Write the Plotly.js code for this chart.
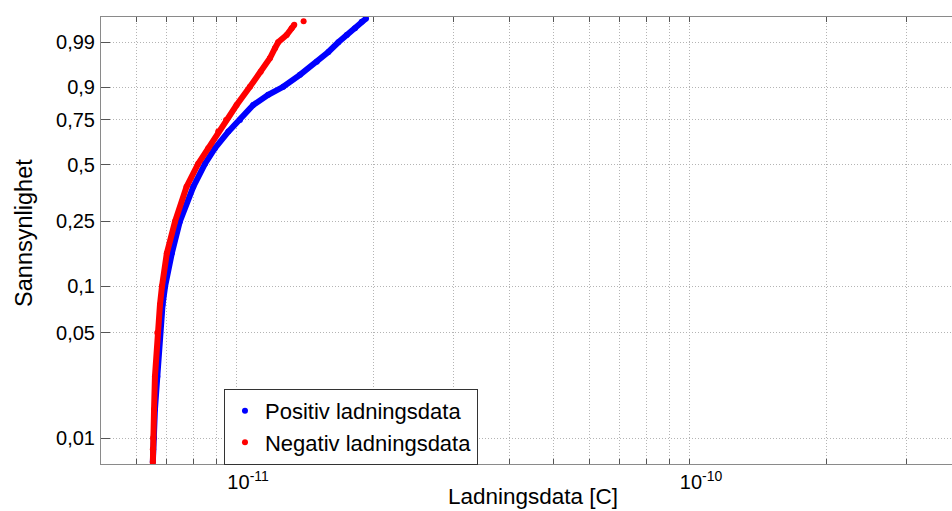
<!DOCTYPE html>
<html>
<head>
<meta charset="utf-8">
<script src="https://cdn.plot.ly/plotly-3.0.1.min.js"></script>
<style>
html, body { margin: 0; padding: 0; background: #ffffff; overflow: hidden; }
#chart { width: 952px; height: 511px; }
</style>
</head>
<body>
<div id="chart"></div>
<script>
// Positiv ladningsdata: charge [C] and cumulative probability
const chargePos = [6.52e-12, 6.53e-12, 6.56e-12, 6.59e-12, 6.67e-12, 6.76e-12, 6.85e-12, 6.94e-12,
  7.18e-12, 7.48e-12, 8.01e-12, 8.50e-12, 8.94e-12, 9.57e-12, 1.015e-11, 1.086e-11, 1.172e-11,
  1.265e-11, 1.377e-11, 1.500e-11, 1.591e-11, 1.674e-11, 1.747e-11, 1.822e-11, 1.885e-11, 1.927e-11];
const probPos = [0.0069, 0.0084, 0.010, 0.0155, 0.0257, 0.050, 0.076, 0.100,
  0.161, 0.25, 0.389, 0.505, 0.591, 0.685, 0.749, 0.825, 0.870,
  0.901, 0.938, 0.967, 0.981, 0.990, 0.9942, 0.9967, 0.9982, 0.9987];

// Negativ ladningsdata
const chargeNeg = [6.52e-12, 6.52e-12, 6.53e-12, 6.56e-12, 6.59e-12, 6.67e-12, 6.76e-12, 6.83e-12,
  7.00e-12, 7.30e-12, 7.74e-12, 8.21e-12, 8.64e-12, 9.09e-12, 9.46e-12, 9.98e-12, 1.068e-11,
  1.128e-11, 1.182e-11, 1.213e-11, 1.233e-11, 1.287e-11, 1.320e-11, 1.338e-11, 1.403e-11];
const probNeg = [0.0068, 0.0084, 0.010, 0.0155, 0.0257, 0.050, 0.076, 0.100,
  0.161, 0.25, 0.389, 0.505, 0.591, 0.685, 0.749, 0.825, 0.901,
  0.946, 0.9725, 0.985, 0.990, 0.9942, 0.9967, 0.9976, 0.9983];

const seriesNames = ['Positiv ladningsdata', 'Negativ ladningsdata'];

const probTicks = [0.01, 0.05, 0.1, 0.25, 0.5, 0.75, 0.9, 0.99];
const probTickText = ['0,01', '0,05', '0,1', '0,25', '0,5', '0,75', '0,9', '0,99'];

const chargeMajorTicks = [1e-11, 1e-10];
const chargeMajorText = ['10<sup>-11</sup>', '10<sup>-10</sup>'];
const chargeMinorTicks = [6e-12, 7e-12, 8e-12, 9e-12, 2e-11, 3e-11, 4e-11, 5e-11, 6e-11, 7e-11, 8e-11, 9e-11, 2e-10, 3e-10];

const xTitle = 'Ladningsdata [C]';
const yTitle = 'Sannsynlighet';

// Weibull probability scale
const wbl = p => Math.log(-Math.log(1 - p));

const FONT = 'Liberation Sans, Arial, Helvetica, sans-serif';
const BLUE = '#0000ff', RED = '#ff0000';
const GRID = '#b4b4b4';
const NB = '\u00a0\u00a0\u00a0\u00a0';

const traces = [
  { x: chargePos, y: probPos.map(wbl), mode: 'lines', line: { color: BLUE, width: 6 },
    showlegend: false, hoverinfo: 'skip' },
  { x: chargePos, y: probPos.map(wbl), mode: 'markers', marker: { color: BLUE, size: 6 },
    name: seriesNames[0] },
  { x: chargeNeg.slice(0, -1), y: probNeg.slice(0, -1).map(wbl), mode: 'lines', line: { color: RED, width: 6 },
    showlegend: false, hoverinfo: 'skip' },
  { x: chargeNeg, y: probNeg.map(wbl), mode: 'markers', marker: { color: RED, size: 6 },
    name: seriesNames[1] }
];

const layout = {
  width: 952, height: 511,
  margin: { l: 101, r: 0, t: 17, b: 47 },
  paper_bgcolor: '#ffffff', plot_bgcolor: '#ffffff',
  font: { family: FONT, color: '#000000' },
  showlegend: true,
  legend: {
    x: 0.1445, y: 0.168, xanchor: 'left', yanchor: 'top',
    bgcolor: '#ffffff', bordercolor: '#333333', borderwidth: 1,
    font: { family: FONT, size: 22, color: '#000000' },
    traceorder: 'normal', tracegroupgap: 0
  },
  xaxis: {
    type: 'log',
    range: [-11.3002, -9.4216],
    tickmode: 'array', tickvals: chargeMajorTicks, ticktext: chargeMajorText.map(t => NB + t),
    ticks: 'inside', ticklen: 5, tickwidth: 1, tickcolor: '#555555',
    showline: true, linecolor: '#8a8a8a', linewidth: 1, mirror: 'ticks',
    showgrid: true, gridcolor: GRID, griddash: '1px,2px', gridwidth: 1,
    minor: { tickmode: 'array', tickvals: chargeMinorTicks, ticks: 'inside', ticklen: 5,
      tickcolor: '#555555', tickwidth: 1, showgrid: true, gridcolor: GRID, griddash: '1px,2px', gridwidth: 1 },
    zeroline: false,
    tickfont: { family: FONT, size: 20, color: '#000000' }
  },
  yaxis: {
    range: [-5.0023, 1.9186],
    tickmode: 'array', tickvals: probTicks.map(wbl), ticktext: probTickText,
    ticks: 'inside', ticklen: 9, tickwidth: 1, tickcolor: '#555555',
    showline: true, linecolor: '#8a8a8a', linewidth: 1,
    showgrid: true, gridcolor: GRID, griddash: '1px,2px', gridwidth: 1,
    zeroline: false,
    ticklabelstandoff: 1,
    tickfont: { family: FONT, size: 20, color: '#000000' }
  },
  annotations: [
    { text: xTitle, xref: 'paper', yref: 'paper', x: 0.5076, y: -0.0716,
      xanchor: 'center', yanchor: 'middle', showarrow: false,
      font: { family: FONT, size: 22.5, color: '#000000' } },
    { text: yTitle, xref: 'paper', yref: 'paper', x: -0.0905, y: 0.517,
      xanchor: 'center', yanchor: 'middle', showarrow: false, textangle: -90,
      font: { family: FONT, size: 23.5, color: '#000000' } }
  ]
};

Plotly.newPlot('chart', traces, layout, { displayModeBar: false, staticPlot: true });
</script>
</body>
</html>
